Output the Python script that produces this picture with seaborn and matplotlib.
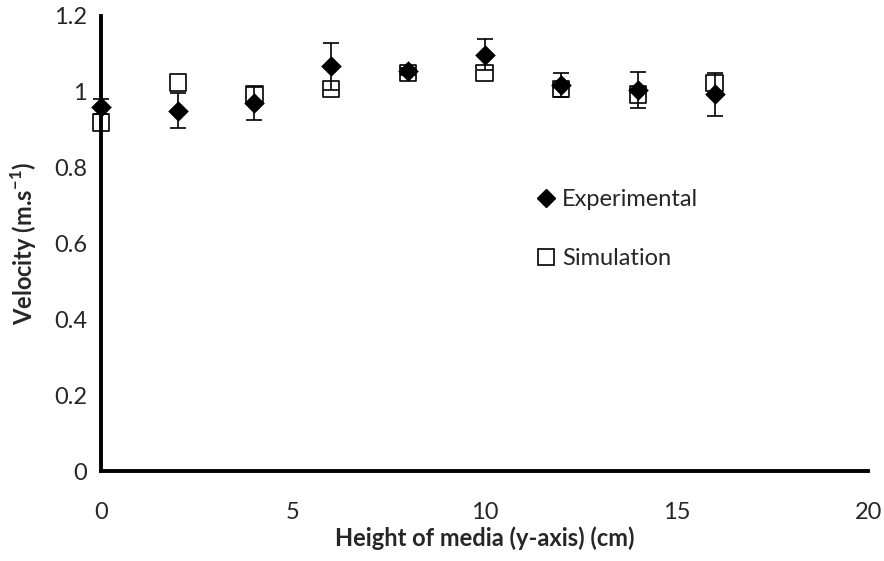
import matplotlib
matplotlib.use("Agg")
import matplotlib.pyplot as plt
import seaborn as sns
import pandas as pd
from matplotlib.lines import Line2D

# Velocity profile along the height of the media
height_cm = [0, 2, 4, 6, 8, 10, 12, 14, 16]
experimental = [0.961, 0.950, 0.970, 1.067, 1.054, 1.098, 1.018, 1.005, 0.993]
experimental_err = [0.020, 0.046, 0.044, 0.061, 0.010, 0.041, 0.031, 0.048, 0.056]
simulation = [0.919, 1.025, 0.994, 1.008, 1.050, 1.049, 1.008, 0.993, 1.023]

x_ticks = [0, 5, 10, 15, 20]
y_ticks = [0, 0.2, 0.4, 0.6, 0.8, 1.0, 1.2]
y_tick_labels = ["0", "0.2", "0.4", "0.6", "0.8", "1", "1.2"]

df = pd.DataFrame({
    "height": height_cm,
    "experimental": experimental,
    "err": experimental_err,
    "simulation": simulation,
})

sns.set_style("white")
plt.rcParams["font.family"] = ["Lato", "DejaVu Sans"]
plt.rcParams["mathtext.fontset"] = "custom"
plt.rcParams["mathtext.rm"] = "Lato"
plt.rcParams["mathtext.bf"] = "Lato:bold"

FS = 17

fig = plt.figure(figsize=(8.84, 5.61), dpi=100)
ax = fig.add_axes([0.1143, 0.1604, 0.8677, 0.8111])

# Simulation: open squares
sns.scatterplot(data=df, x="height", y="simulation", marker="s", s=140,
                facecolor="none", edgecolor="black", linewidth=1.2,
                ax=ax, zorder=4, clip_on=False)

# Experimental error bars and filled diamonds
ax.errorbar(df["height"], df["experimental"], yerr=df["err"], fmt="none",
            ecolor="black", elinewidth=1.2, capsize=5.5, capthick=1.2,
            zorder=5, clip_on=False)
sns.scatterplot(data=df, x="height", y="experimental", marker="D", s=110,
                color="black", edgecolor="black", linewidth=0,
                ax=ax, zorder=6, clip_on=False)

ax.set_xlim(0, 20)
ax.set_ylim(0, 1.2)
ax.set_xticks(x_ticks)
ax.set_xticklabels([str(t) for t in x_ticks])
ax.set_yticks(y_ticks)
ax.set_yticklabels(y_tick_labels)
ax.tick_params(axis="x", length=0, pad=22, labelsize=FS)
ax.tick_params(axis="y", length=0, pad=10, labelsize=FS)

for side in ["top", "right"]:
    ax.spines[side].set_visible(False)
for side in ["left", "bottom"]:
    ax.spines[side].set_linewidth(2.8)
    ax.spines[side].set_color("black")
    ax.spines[side].set_zorder(3)

ax.set_xlabel("Height of media (y-axis) (cm)", fontsize=FS,
              fontweight="bold", labelpad=3)
ax.set_ylabel(r"Velocity (m.s$^{\mathbf{-1}}$)", fontsize=FS,
              fontweight="bold", labelpad=11)

handles = [
    Line2D([], [], linestyle="none", marker="D", markersize=9,
           markerfacecolor="black", markeredgecolor="black"),
    Line2D([], [], linestyle="none", marker="s", markersize=12,
           markerfacecolor="none", markeredgecolor="black",
           markeredgewidth=1.2),
]
ax.legend(handles, ["Experimental", "Simulation"], frameon=False,
          loc="upper left", bbox_to_anchor=(0.555, 0.64),
          fontsize=FS, handlelength=0.8, handletextpad=0.3,
          labelspacing=1.6, borderaxespad=0)

fig.savefig("out.png", dpi=100)
